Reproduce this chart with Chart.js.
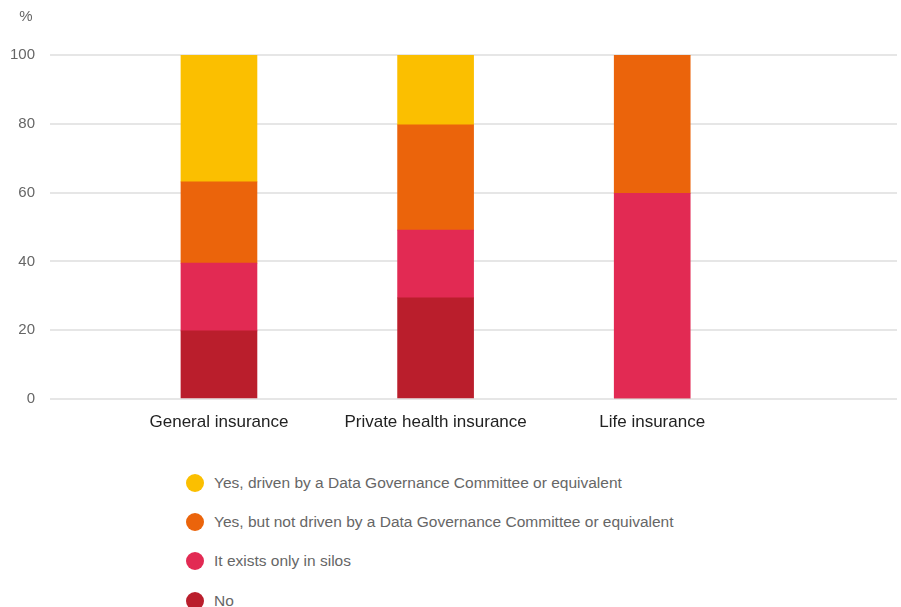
<!DOCTYPE html>
<html>
<head>
<meta charset="utf-8">
<script src="https://cdn.jsdelivr.net/npm/chart.js@4"></script>
<style>
  html, body { margin: 0; padding: 0; background: #fff; overflow: hidden; }
  body { width: 901px; height: 607px; font-family: "Liberation Sans", Arial, sans-serif; }
  #wrap { position: relative; width: 901px; height: 440px; }
  #legend { list-style: none; margin: 23px 0 0 0; padding: 0 0 0 186px; }
  #legend li { display: flex; align-items: center; height: 39.3px; font-size: 15.5px; color: #666; }
  #legend span.dot { display: inline-block; width: 18px; height: 18px; border-radius: 50%; margin-right: 10px; }
</style>
</head>
<body>
<div id="wrap"><canvas id="chart"></canvas></div>
<ul id="legend"></ul>
<script>
// categories and series (stack order bottom -> top)
const categories = ['General insurance', 'Private health insurance', 'Life insurance'];
const noValues = [19.8, 29.4, 0];
const silosValues = [19.7, 19.7, 59.8];
const notDrivenValues = [23.6, 30.6, 40.2];
const drivenValues = [36.9, 20.3, 0];
const yTicks = [0, 20, 40, 60, 80, 100];

const seriesNames = [
    'No',
    'It exists only in silos',
    'Yes, but not driven by a Data Governance Committee or equivalent',
    'Yes, driven by a Data Governance Committee or equivalent'
];
const seriesColors = ['#BA1E2C', '#E22A53', '#EB640B', '#FBBF00'];
const seriesValues = [noValues, silosValues, notDrivenValues, drivenValues];

const toPoints = vals => vals.map((v, i) => ({ x: i, y: v }));

const percentLabel = {
    id: 'percentLabel',
    afterDraw(chart) {
        const ctx = chart.ctx;
        const yScale = chart.scales.y;
        ctx.save();
        ctx.font = '15px "Liberation Sans", Arial, sans-serif';
        ctx.fillStyle = '#666';
        ctx.textAlign = 'center';
        ctx.textBaseline = 'middle';
        ctx.fillText('%', yScale.left + 16, 17);
        ctx.restore();
    }
};

const chart = new Chart(document.getElementById('chart'), {
    type: 'bar',
    data: {
        datasets: seriesValues.map((vals, i) => ({
            label: seriesNames[i],
            data: toPoints(vals),
            backgroundColor: seriesColors[i],
            borderWidth: 0,
            barThickness: 76
        }))
    },
    options: {
        responsive: true,
        maintainAspectRatio: false,
        animation: false,
        layout: { padding: { left: 10, right: 4, top: 55, bottom: 8 } },
        plugins: {
            legend: { display: false },
            tooltip: { enabled: false }
        },
        scales: {
            x: {
                type: 'linear',
                stacked: true,
                offset: false,
                min: -0.78,
                max: 3.13,
                grid: { display: false, drawTicks: false },
                border: { display: false },
                afterBuildTicks: axis => {
                    axis.ticks = categories.map((_, i) => ({ value: i }));
                },
                afterFit: axis => {
                    axis.height = 33;
                    axis.paddingLeft = 0;
                    axis.paddingRight = 0;
                },
                ticks: {
                    padding: 13,
                    maxRotation: 0,
                    autoSkip: false,
                    color: '#222',
                    font: { size: 17, family: '"Liberation Sans", Arial, sans-serif' },
                    callback: v => categories[v] || ''
                }
            },
            y: {
                stacked: true,
                min: 0,
                max: 100,
                afterBuildTicks: axis => {
                    axis.ticks = yTicks.map(v => ({ value: v }));
                },
                afterFit: axis => {
                    axis.width = 40;
                },
                grid: { color: '#e6e6e6', lineWidth: 2, drawTicks: false },
                border: { display: false },
                ticks: {
                    padding: 15,
                    color: '#666',
                    font: { size: 15, family: '"Liberation Sans", Arial, sans-serif' }
                }
            }
        }
    },
    plugins: [percentLabel]
});

// legend, top series first
const legend = document.getElementById('legend');
chart.data.datasets.slice().reverse().forEach(ds => {
    const li = document.createElement('li');
    const dot = document.createElement('span');
    dot.className = 'dot';
    dot.style.background = ds.backgroundColor;
    li.appendChild(dot);
    li.appendChild(document.createTextNode(ds.label));
    legend.appendChild(li);
});
</script>
</body>
</html>
